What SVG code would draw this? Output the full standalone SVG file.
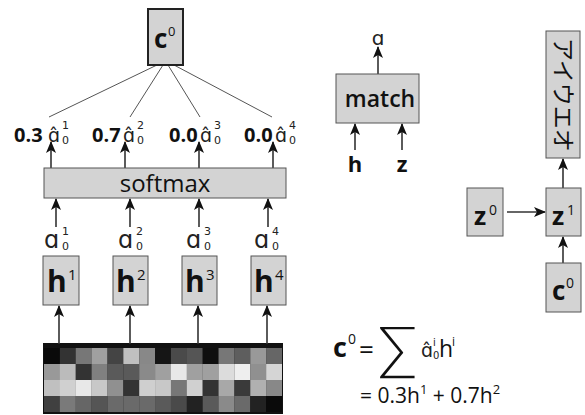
<svg xmlns="http://www.w3.org/2000/svg" width="585" height="415" viewBox="0 0 585 415">
<style>
.box{fill:#d3d3d3;stroke:#555;stroke-width:1}
.t{font-family:"Open Sans","DejaVu Sans",sans-serif;fill:#111}
.b{font-weight:bold}
.al{font-family:"DejaVu Sans",sans-serif;fill:#222}
.ar{stroke:#333;stroke-width:1.6;fill:none;marker-end:url(#ah)}
.ln{stroke:#555;stroke-width:1;fill:none}
</style>
<defs>
<marker id="ah" viewBox="0 0 12 10" refX="11" refY="5" markerWidth="12" markerHeight="10" markerUnits="userSpaceOnUse" orient="auto">
<path d="M0,0 L12,5 L0,10 L3,5 z" fill="#111"/>
</marker>
</defs>

<g id="grid">
<rect x="43" y="343" width="240" height="71" fill="#111"/>
<g transform="translate(44,348)">
<rect x="0" y="0" width="16" height="16" fill="#0a0a0a"/><rect x="15.87" y="0" width="16" height="16" fill="#333"/><rect x="31.73" y="0" width="16" height="16" fill="#777"/><rect x="47.6" y="0" width="16" height="16" fill="#a0a0a0"/><rect x="63.47" y="0" width="16" height="16" fill="#444"/><rect x="79.33" y="0" width="16" height="16" fill="#c0c0c0"/><rect x="95.2" y="0" width="16" height="16" fill="#888"/><rect x="111.07" y="0" width="16" height="16" fill="#151515"/><rect x="126.93" y="0" width="16" height="16" fill="#4a4a4a"/><rect x="142.8" y="0" width="16" height="16" fill="#555"/><rect x="158.67" y="0" width="16" height="16" fill="#0f0f0f"/><rect x="174.53" y="0" width="16" height="16" fill="#777"/><rect x="190.4" y="0" width="16" height="16" fill="#5e5e5e"/><rect x="206.27" y="0" width="16" height="16" fill="#999"/><rect x="222.13" y="0" width="15.87" height="16" fill="#666"/>
<rect x="0" y="16" width="16" height="16" fill="#999"/><rect x="15.87" y="16" width="16" height="16" fill="#bbb"/><rect x="31.73" y="16" width="16" height="16" fill="#333"/><rect x="47.6" y="16" width="16" height="16" fill="#808080"/><rect x="63.47" y="16" width="16" height="16" fill="#5a5a5a"/><rect x="79.33" y="16" width="16" height="16" fill="#5a5a5a"/><rect x="95.2" y="16" width="16" height="16" fill="#8a8a8a"/><rect x="111.07" y="16" width="16" height="16" fill="#a0a0a0"/><rect x="126.93" y="16" width="16" height="16" fill="#e8e8e8"/><rect x="142.8" y="16" width="16" height="16" fill="#a0a0a0"/><rect x="158.67" y="16" width="16" height="16" fill="#a0a0a0"/><rect x="174.53" y="16" width="16" height="16" fill="#dcdcdc"/><rect x="190.4" y="16" width="16" height="16" fill="#eee"/><rect x="206.27" y="16" width="16" height="16" fill="#909090"/><rect x="222.13" y="16" width="15.87" height="16" fill="#d5d5d5"/>
<rect x="0" y="32" width="16" height="16" fill="#c0c0c0"/><rect x="15.87" y="32" width="16" height="16" fill="#d0d0d0"/><rect x="31.73" y="32" width="16" height="16" fill="#e8e8e8"/><rect x="47.6" y="32" width="16" height="16" fill="#c8c8c8"/><rect x="63.47" y="32" width="16" height="16" fill="#909090"/><rect x="79.33" y="32" width="16" height="16" fill="#333"/><rect x="95.2" y="32" width="16" height="16" fill="#cfcfcf"/><rect x="111.07" y="32" width="16" height="16" fill="#c8c8c8"/><rect x="126.93" y="32" width="16" height="16" fill="#777"/><rect x="142.8" y="32" width="16" height="16" fill="#d0d0d0"/><rect x="158.67" y="32" width="16" height="16" fill="#333"/><rect x="174.53" y="32" width="16" height="16" fill="#a8a8a8"/><rect x="190.4" y="32" width="16" height="16" fill="#3a3a3a"/><rect x="206.27" y="32" width="16" height="16" fill="#b0b0b0"/><rect x="222.13" y="32" width="15.87" height="16" fill="#888"/>
<rect x="0" y="48" width="16" height="16" fill="#404040"/><rect x="15.87" y="48" width="16" height="16" fill="#7a7a7a"/><rect x="31.73" y="48" width="16" height="16" fill="#666"/><rect x="47.6" y="48" width="16" height="16" fill="#555"/><rect x="63.47" y="48" width="16" height="16" fill="#6a6a6a"/><rect x="79.33" y="48" width="16" height="16" fill="#6a6a6a"/><rect x="95.2" y="48" width="16" height="16" fill="#6a6a6a"/><rect x="111.07" y="48" width="16" height="16" fill="#5a5a5a"/><rect x="126.93" y="48" width="16" height="16" fill="#4a4a4a"/><rect x="142.8" y="48" width="16" height="16" fill="#222"/><rect x="158.67" y="48" width="16" height="16" fill="#5a5a5a"/><rect x="174.53" y="48" width="16" height="16" fill="#8a8a8a"/><rect x="190.4" y="48" width="16" height="16" fill="#6a6a6a"/><rect x="206.27" y="48" width="16" height="16" fill="#222"/><rect x="222.13" y="48" width="15.87" height="16" fill="#0a0a0a"/>
</g>
</g>

<g id="connectors">
<path class="ln" d="M157,65 L49,117 M163,65 L130,117 M168,65 L200,117 M174,65 L272,117"/>
<path class="ar" d="M51,168 V142"/>
<path class="ar" d="M125,168 V142"/>
<path class="ar" d="M199,168 V142"/>
<path class="ar" d="M273,168 V142"/>
<path class="ar" d="M56,227 V199"/>
<path class="ar" d="M130,227 V199"/>
<path class="ar" d="M199,227 V199"/>
<path class="ar" d="M268,227 V199"/>
<path class="ar" d="M59,344 V306"/>
<path class="ar" d="M130,344 V306"/>
<path class="ar" d="M198,344 V306"/>
<path class="ar" d="M267,344 V306"/>
<path class="ar" d="M378,74 V47"/>
<path class="ar" d="M355,150 V124"/>
<path class="ar" d="M402,150 V124"/>
<path class="ar" d="M563,188 V159"/>
<path class="ar" d="M507,212 H545"/>
<path class="ar" d="M563,263 V237"/>
</g>

<g id="c0top">
<rect x="148" y="9" width="35" height="56" fill="#d3d3d3" stroke="#222" stroke-width="2"/>
<text class="t b" x="154" y="48" font-size="26">c</text>
<text class="t" x="168" y="36" font-size="13">0</text>
</g>

<g id="weights">
<text class="t b" x="14" y="142" font-size="20">0.3</text>
<text class="al" x="48" y="142" font-size="19">ɑ̂</text>
<text class="al" x="62" y="129" font-size="11">1</text>
<text class="al" x="62" y="144" font-size="11">0</text>
<text class="t b" x="92" y="142" font-size="20">0.7</text>
<text class="al" x="123" y="142" font-size="19">ɑ̂</text>
<text class="al" x="137" y="129" font-size="11">2</text>
<text class="al" x="137" y="144" font-size="11">0</text>
<text class="t b" x="169" y="142" font-size="20">0.0</text>
<text class="al" x="200" y="142" font-size="19">ɑ̂</text>
<text class="al" x="214" y="129" font-size="11">3</text>
<text class="al" x="214" y="144" font-size="11">0</text>
<text class="t b" x="244" y="142" font-size="20">0.0</text>
<text class="al" x="275" y="142" font-size="19">ɑ̂</text>
<text class="al" x="289" y="129" font-size="11">4</text>
<text class="al" x="289" y="144" font-size="11">0</text>
</g>

<g id="softmax">
<rect class="box" x="44" y="168" width="242" height="30"/>
<text class="t" x="165" y="192" font-size="24" text-anchor="middle">softmax</text>
</g>

<g id="alphas">
<text class="al" x="44" y="248" font-size="24">ɑ</text>
<text class="al" x="62" y="235" font-size="11">1</text>
<text class="al" x="62" y="250" font-size="11">0</text>
<text class="al" x="118" y="248" font-size="24">ɑ</text>
<text class="al" x="136" y="235" font-size="11">2</text>
<text class="al" x="136" y="250" font-size="11">0</text>
<text class="al" x="186" y="248" font-size="24">ɑ</text>
<text class="al" x="204" y="235" font-size="11">3</text>
<text class="al" x="204" y="250" font-size="11">0</text>
<text class="al" x="254" y="248" font-size="24">ɑ</text>
<text class="al" x="272" y="235" font-size="11">4</text>
<text class="al" x="272" y="250" font-size="11">0</text>
</g>

<g id="h1"><rect class="box" x="43" y="256" width="36" height="49"/><text class="t b" x="47" y="292" font-size="30">h</text><text class="t" x="68" y="280" font-size="15">1</text></g>
<g id="h2"><rect class="box" x="113" y="256" width="35" height="49"/><text class="t b" x="116" y="292" font-size="30">h</text><text class="t" x="137" y="280" font-size="15">2</text></g>
<g id="h3"><rect class="box" x="182" y="256" width="35" height="49"/><text class="t b" x="185" y="292" font-size="30">h</text><text class="t" x="206" y="280" font-size="15">3</text></g>
<g id="h4"><rect class="box" x="251" y="256" width="35" height="49"/><text class="t b" x="254" y="292" font-size="30">h</text><text class="t" x="275" y="280" font-size="15">4</text></g>

<g id="match">
<rect class="box" x="336" y="74" width="83" height="49"/>
<text class="t" x="380" y="107" font-size="23" font-weight="600" text-anchor="middle">match</text>
<text class="al" x="378" y="45" font-size="20" text-anchor="middle">ɑ</text>
<text class="t b" x="355" y="172" font-size="22" text-anchor="middle">h</text>
<text class="t b" x="402" y="172" font-size="22" text-anchor="middle">z</text>
</g>

<g id="kana">
<rect class="box" x="546" y="31" width="34" height="127"/>
<text x="0" y="0" font-size="23" font-family="'Noto Sans CJK JP',sans-serif" fill="#111" transform="translate(555,38) rotate(90)">アイウエオ</text>
</g>

<g id="z0"><rect class="box" x="467" y="188" width="36" height="48"/><text class="t b" x="474" y="225" font-size="25">z</text><text class="t" x="489" y="215" font-size="14">0</text></g>
<g id="z1"><rect class="box" x="546" y="188" width="35" height="48"/><text class="t b" x="552" y="225" font-size="25">z</text><text class="t" x="567" y="215" font-size="14">1</text></g>
<g id="c0"><rect class="box" x="546" y="263" width="35" height="49"/><text class="t b" x="552" y="300" font-size="26">c</text><text class="t" x="566" y="288" font-size="14">0</text></g>

<g id="formula">
<text class="t b" x="333" y="357" font-size="27">c</text>
<text class="t" x="348" y="344" font-size="14">0</text>
<text class="t" x="359" y="359" font-size="26">=</text>
<text x="378" y="368" font-size="58" font-family="Lato,'Liberation Sans',sans-serif" font-weight="300" fill="#111">∑</text>
<text class="al" x="421" y="357" font-size="19">ɑ̂</text>
<text class="al" x="433" y="346" font-size="10">i</text>
<text class="al" x="433" y="359" font-size="10">0</text>
<text class="t" x="439" y="357" font-size="23">h</text>
<text class="t" x="452" y="346" font-size="12">i</text>
<text class="t" x="360" y="403" font-size="21">= 0.3h<tspan font-size="13" dy="-9">1</tspan><tspan dy="9"> + 0.7h</tspan><tspan font-size="13" dy="-9">2</tspan></text>
</g>
</svg>
